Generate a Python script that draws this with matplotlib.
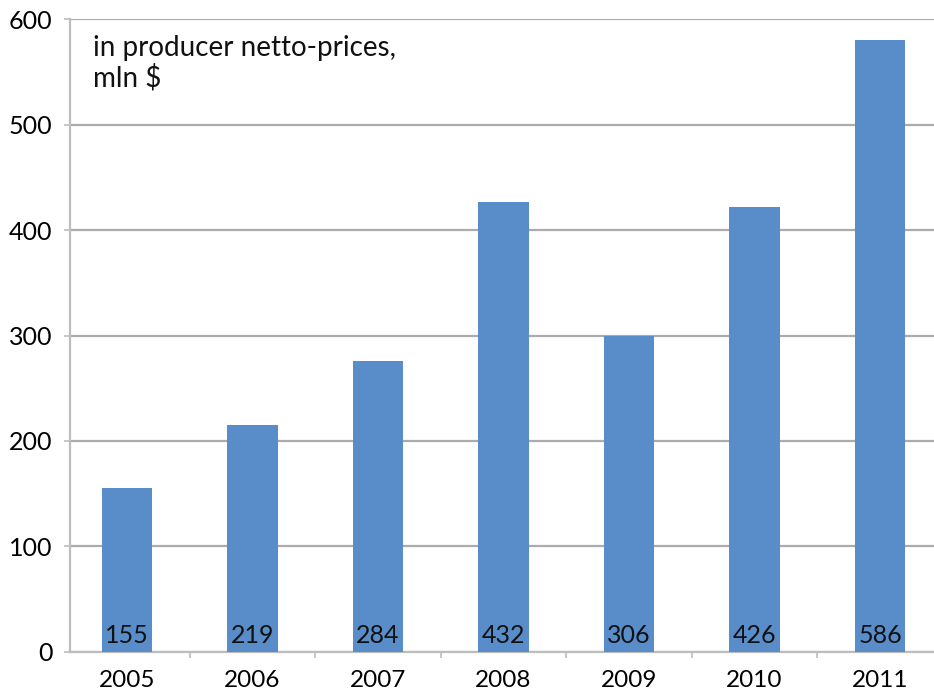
import matplotlib
matplotlib.use("Agg")
import matplotlib.pyplot as plt
import numpy as np

years = ["2005", "2006", "2007", "2008", "2009", "2010", "2011"]
heights = [155, 215, 276, 427, 300, 422, 580]   # bar heights as drawn
labels = ["155", "219", "284", "432", "306", "426", "586"]  # printed labels

plt.rcParams['font.family'] = ['Lato', 'DejaVu Sans']

fig = plt.figure(figsize=(9.34, 6.96), dpi=100)
ax = fig.add_axes([70/934, 44.3/696, 864/934, 632.4/696])

x = np.arange(len(years))
bars = ax.bar(x, heights, width=0.4, color='#598DC9', zorder=3)

# value labels sitting at the bottom of each bar
for xi, lab in zip(x, labels):
    ax.text(xi, 8, lab, ha='center', va='baseline', fontsize=18, color='#111111', zorder=4)

ax.set_xlim(-0.454, 6.43)
ax.set_ylim(0, 600)
ax.set_yticks(np.arange(0, 601, 100))
ax.set_xticks(x)
ax.set_xticklabels(years)
ax.set_xticks(np.arange(0.5, 6.5, 1), minor=True)

ax.grid(axis='y', color='#ABABAB', linewidth=1.6, zorder=0)
for s in ['top', 'right']:
    ax.spines[s].set_visible(False)
for s in ['left', 'bottom']:
    ax.spines[s].set_color('#BDBDBD')
    ax.spines[s].set_linewidth(1.6)

ax.tick_params(axis='y', length=4.5, width=1.2, color='#BDBDBD', labelsize=18, pad=8)
ax.tick_params(axis='x', which='major', length=0, labelsize=17.5, pad=13)
ax.tick_params(axis='x', which='minor', length=4.5, width=1.2, color='#BDBDBD')

ax.text(0.027, 0.975, "in producer netto-prices,\nmln $", transform=ax.transAxes,
        ha='left', va='top', fontsize=20, linespacing=1.15, color='#111111')

fig.savefig("out.png", dpi=100)
